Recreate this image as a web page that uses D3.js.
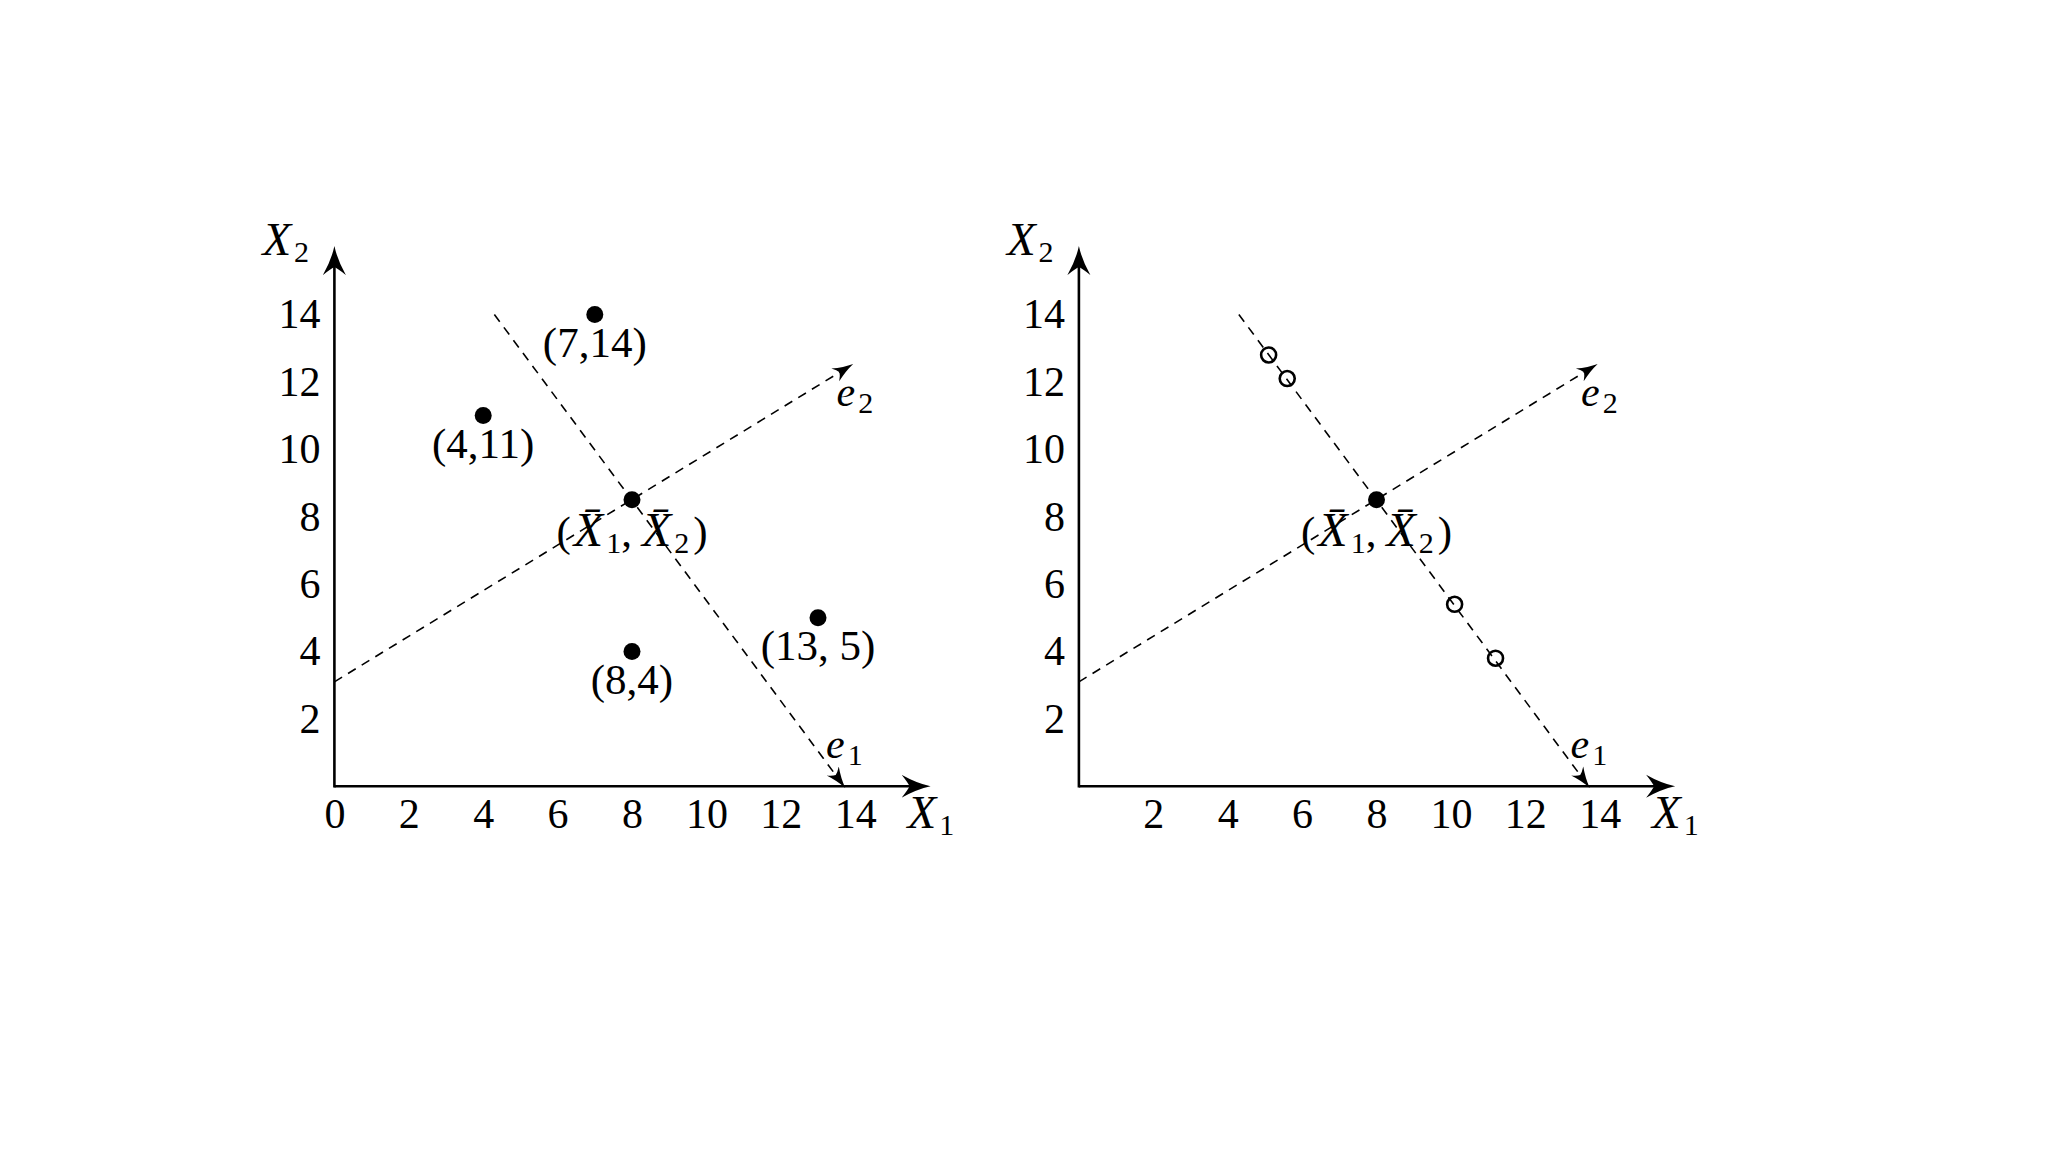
<!DOCTYPE html>
<html>
<head>
<meta charset="utf-8">
<script src="https://cdn.jsdelivr.net/npm/d3@7"></script>
<style>
body { margin: 0; background: #fff; }
svg text { font-family: "Liberation Serif", "Times New Roman", serif; fill: #000; }
</style>
</head>
<body>
<script>
// data
var xTicksLeft = [0, 2, 4, 6, 8, 10, 12, 14];
var xTicksRight = [2, 4, 6, 8, 10, 12, 14];
var yTicks = [2, 4, 6, 8, 10, 12, 14];
var points = [[7, 14], [4, 11], [8, 4], [13, 5]];
var pointLabels = ['(7,14)', '(4,11)', '(8,4)', '(13, 5)'];
var meanPoint = [8, 8.5];
var projected = [[5.1, 12.8], [5.6, 12.1], [10.1, 5.4], [11.2, 3.8]];
var e1Line = [[4.3, 14], [13.7, 0]];
var e2Line = [[0, 3.1], [13.9, 12.5]];
var axisMax = 16;


// svg
var width = 2048,
    height = 1152;

var svg = d3.select('body').append('svg')
    .attr('width', width)
    .attr('height', height);

var defs = svg.append('defs');

// big arrow for the axes
defs.append('marker')
    .attr('id', 'axisArrow')
    .attr('markerUnits', 'userSpaceOnUse')
    .attr('viewBox', '0 -13 30 26')
    .attr('markerWidth', 30)
    .attr('markerHeight', 26)
    .attr('refX', 18)
    .attr('refY', 0)
    .attr('orient', 'auto')
  .append('path')
    .attr('d', 'M29,0 Q15,-3 0,-11.5 Q6,-4 8,0 Q6,4 0,11.5 Q15,3 29,0Z')
    .style('fill', '#000');

// small arrow for e1 / e2
defs.append('marker')
    .attr('id', 'eArrow')
    .attr('markerUnits', 'userSpaceOnUse')
    .attr('viewBox', '0 -9 24 18')
    .attr('markerWidth', 24)
    .attr('markerHeight', 18)
    .attr('refX', 19)
    .attr('refY', 0)
    .attr('orient', 'auto')
  .append('path')
    .attr('d', 'M21,0 Q11,-2 0,-7.5 Q4,-3 5,0 Q4,3 0,7.5 Q11,2 21,0Z')
    .style('fill', '#000');

var y = d3.scaleLinear().domain([0, 14]).range([786.3, 314.5]);

// label like X_2 or e_1
function mathLabel(g, px, py, base, sub, size) {
	var t = g.append('text')
		.attr('x', px)
		.attr('y', py)
		.style('font-size', size + 'px');
	t.append('tspan')
		.style('font-style', 'italic')
		.text(base);
	t.append('tspan')
		.attr('dx', 3)
		.attr('dy', 7)
		.style('font-size', '30px')
		.text(sub);
	return t;
}

function meanLabel(g, px, py) {
	var t = g.append('text')
		.attr('x', px)
		.attr('y', py)
		.attr('text-anchor', 'middle')
		.style('font-size', '43px');
	t.append('tspan').text('(');
	t.append('tspan').attr('dx', 3).style('font-style', 'italic').style('font-size', '48px').text('X\u0304');
	t.append('tspan').attr('dx', 3).attr('dy', 7).style('font-size', '30px').text('1');
	t.append('tspan').attr('dy', -7).text(',');
	t.append('tspan').attr('dx', 10).style('font-style', 'italic').style('font-size', '48px').text('X\u0304');
	t.append('tspan').attr('dx', 3).attr('dy', 7).style('font-size', '30px').text('2');
	t.append('tspan').attr('dx', 4).attr('dy', -7).text(')');
}

function drawPanel(left, xTicks, mode) {
	var x = d3.scaleLinear().domain([0, 14]).range([left, left + 520.8]);
	var g = svg.append('g');

	var line = d3.line()
		.x(function(d) { return x(d[0]); })
		.y(function(d) { return y(d[1]); });

	// tick labels
	g.append('g')
		.attr('transform', 'translate(0,' + y(0) + ')')
		.call(d3.axisBottom(x).tickValues(xTicks).tickSize(0).tickPadding(12))
		.call(function(a) {
			a.select('.domain').remove();
			a.attr('font-size', 42).attr('font-family', null);
		});

	g.append('g')
		.attr('transform', 'translate(' + x(0) + ',0)')
		.call(d3.axisLeft(y).tickValues(yTicks).tickSize(0).tickPadding(14))
		.call(function(a) {
			a.select('.domain').remove();
			a.attr('font-size', 42).attr('font-family', null);
		});

	// axes with arrows
	g.append('line')
		.attr('x1', x(0)).attr('y1', y(0))
		.attr('x2', x(axisMax) - 10).attr('y2', y(0))
		.style('stroke', '#000')
		.style('stroke-width', 2.6)
		.attr('marker-end', 'url(#axisArrow)');

	g.append('line')
		.attr('x1', x(0)).attr('y1', y(0) + 1.3)
		.attr('x2', x(0)).attr('y2', y(axisMax) + 10)
		.style('stroke', '#000')
		.style('stroke-width', 2.6)
		.attr('marker-end', 'url(#axisArrow)');

	mathLabel(g, x(0) - 72, y(axisMax) + 8, 'X', '2', 47);
	mathLabel(g, x(axisMax) - 22, y(0) + 42, 'X', '1', 47);

	// e1 / e2 directions
	[e1Line, e2Line].forEach(function(l) {
		g.append('path')
			.attr('d', line(l))
			.style('fill', 'none')
			.style('stroke', '#000')
			.style('stroke-width', 1.6)
			.style('stroke-dasharray', '9,7')
			.attr('marker-end', 'url(#eArrow)');
	});

	mathLabel(g, x(e2Line[1][0]) - 15, y(e2Line[1][1]) + 41, 'e', '2', 42);
	mathLabel(g, x(e1Line[1][0]) - 18, y(e1Line[1][1]) - 28, 'e', '1', 42);

	if (mode === 'points') {
		g.selectAll('.pt')
			.data(points)
			.enter().append('circle')
			.attr('class', 'pt')
			.attr('cx', function(d) { return x(d[0]); })
			.attr('cy', function(d) { return y(d[1]); })
			.attr('r', 8.5)
			.style('fill', '#000');

		g.selectAll('.pt-label')
			.data(points)
			.enter().append('text')
			.attr('class', 'pt-label')
			.attr('x', function(d) { return x(d[0]); })
			.attr('y', function(d) { return y(d[1]) + 42; })
			.attr('text-anchor', 'middle')
			.style('font-size', '43px')
			.text(function(d, i) { return pointLabels[i]; });
	} else {
		g.selectAll('.proj')
			.data(projected)
			.enter().append('circle')
			.attr('class', 'proj')
			.attr('cx', function(d) { return x(d[0]); })
			.attr('cy', function(d) { return y(d[1]); })
			.attr('r', 7.5)
			.style('fill', 'none')
			.style('stroke', '#000')
			.style('stroke-width', 2.6);
	}

	// mean
	g.append('circle')
		.attr('cx', x(meanPoint[0]))
		.attr('cy', y(meanPoint[1]))
		.attr('r', 8.5)
		.style('fill', '#000');

	meanLabel(g, x(meanPoint[0]), y(meanPoint[1]) + 46);
}

drawPanel(334.4, xTicksLeft, 'points');
drawPanel(1078.9, xTicksRight, 'projected');
</script>
</body>
</html>
